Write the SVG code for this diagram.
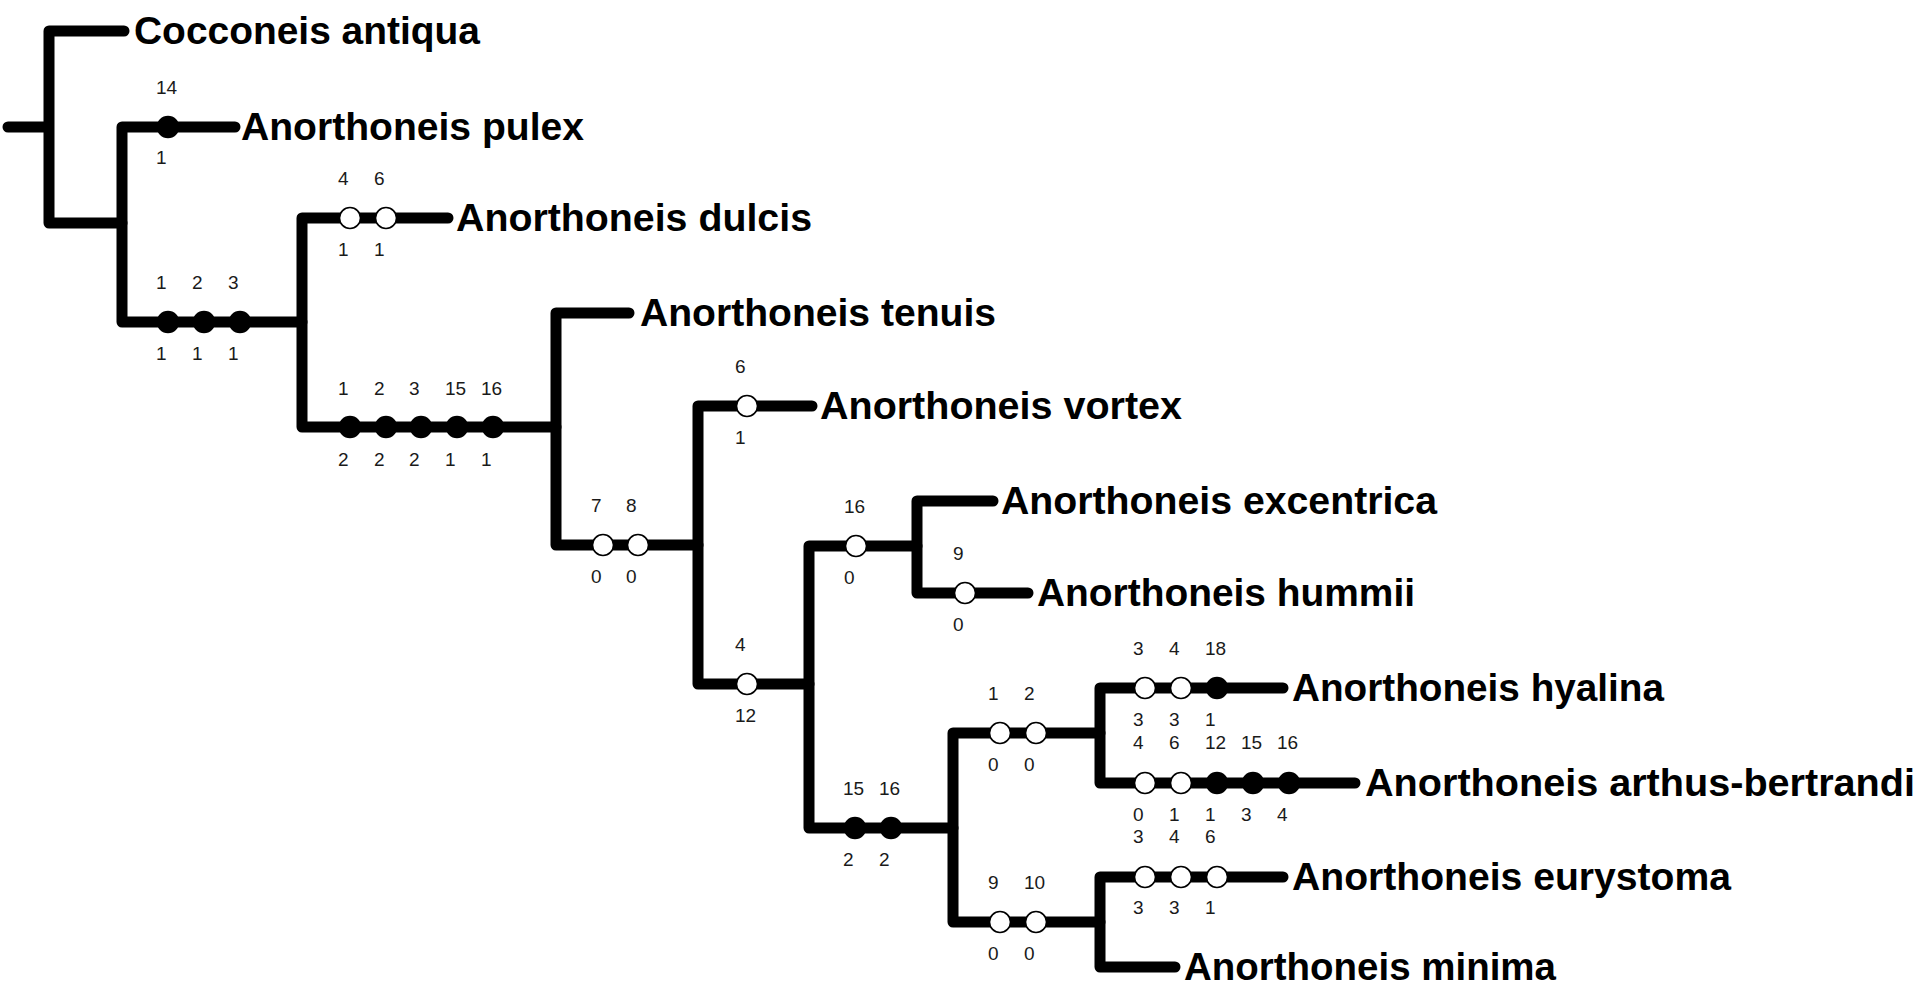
<svg xmlns="http://www.w3.org/2000/svg" width="1932" height="996" viewBox="0 0 1932 996">
<style>
.br{stroke:#000;stroke-width:11;stroke-linecap:round;fill:none}
.tx{font-family:"Liberation Sans",Arial,sans-serif;font-weight:bold;font-size:39px;fill:#000}
.lb{font-family:"Liberation Sans",Arial,sans-serif;font-size:19px;fill:#1a1a1a}
.o{fill:#fff;stroke:#000;stroke-width:1.6}
.f{fill:#000;stroke:#000;stroke-width:1.6}
</style>
<defs>
<circle id="on" r="10.5" class="o"/>
<circle id="fn" r="10.5" class="f"/>
</defs>
<rect width="1932" height="996" fill="#fff"/>
<g id="connectors">
<path class="br" d="M8 127H49M49 31V223M49 31H124M49 223H122"/>
<path class="br" d="M122 127V322M122 127H235M122 322H302"/>
<path class="br" d="M302 218V427M302 218H448M302 427H556"/>
<path class="br" d="M556 313V545M556 313H629M556 545H698"/>
<path class="br" d="M698 406V684M698 406H812M698 684H809"/>
<path class="br" d="M809 546V828M809 546H917M809 828H953"/>
<path class="br" d="M917 501V593M917 501H993M917 593H1028"/>
<path class="br" d="M953 733V922M953 733H1100M953 922H1100"/>
<path class="br" d="M1100 688V783M1100 688H1283M1100 783H1355"/>
<path class="br" d="M1100 877V967M1100 877H1283M1100 967H1175"/>
</g>
<g id="cocconeis-antiqua"><text class="tx" x="134" y="44" textLength="346" lengthAdjust="spacingAndGlyphs">Cocconeis antiqua</text></g>
<g id="anorthoneis-pulex">
<use href="#fn" x="168" y="127"/>
<text class="lb" x="156" y="94">14</text><text class="lb" x="156" y="164">1</text>
<text class="tx" x="241" y="140" textLength="343" lengthAdjust="spacingAndGlyphs">Anorthoneis pulex</text></g>
<g id="clade-123">
<use href="#fn" x="168" y="322"/><use href="#fn" x="204" y="322"/><use href="#fn" x="240" y="322"/>
<text class="lb" x="156" y="289">1</text><text class="lb" x="192" y="289">2</text><text class="lb" x="228" y="289">3</text>
<text class="lb" x="156" y="360">1</text><text class="lb" x="192" y="360">1</text><text class="lb" x="228" y="360">1</text></g>
<g id="anorthoneis-dulcis">
<use href="#on" x="350" y="218"/><use href="#on" x="386" y="218"/>
<text class="lb" x="338" y="185">4</text><text class="lb" x="374" y="185">6</text>
<text class="lb" x="338" y="256">1</text><text class="lb" x="374" y="256">1</text>
<text class="tx" x="456" y="231" textLength="356" lengthAdjust="spacingAndGlyphs">Anorthoneis dulcis</text></g>
<g id="clade-5">
<use href="#fn" x="350" y="427"/><use href="#fn" x="386" y="427"/><use href="#fn" x="421" y="427"/><use href="#fn" x="457" y="427"/><use href="#fn" x="493" y="427"/>
<text class="lb" x="338" y="395">1</text><text class="lb" x="374" y="395">2</text><text class="lb" x="409" y="395">3</text><text class="lb" x="445" y="395">15</text><text class="lb" x="481" y="395">16</text>
<text class="lb" x="338" y="466">2</text><text class="lb" x="374" y="466">2</text><text class="lb" x="409" y="466">2</text><text class="lb" x="445" y="466">1</text><text class="lb" x="481" y="466">1</text></g>
<g id="anorthoneis-tenuis"><text class="tx" x="640" y="326" textLength="356" lengthAdjust="spacingAndGlyphs">Anorthoneis tenuis</text></g>
<g id="clade-78">
<use href="#on" x="603" y="545"/><use href="#on" x="638" y="545"/>
<text class="lb" x="591" y="512">7</text><text class="lb" x="626" y="512">8</text>
<text class="lb" x="591" y="583">0</text><text class="lb" x="626" y="583">0</text></g>
<g id="anorthoneis-vortex">
<use href="#on" x="747" y="406"/>
<text class="lb" x="735" y="373">6</text><text class="lb" x="735" y="444">1</text>
<text class="tx" x="820" y="419" textLength="362" lengthAdjust="spacingAndGlyphs">Anorthoneis vortex</text></g>
<g id="clade-4">
<use href="#on" x="747" y="684"/>
<text class="lb" x="735" y="651">4</text><text class="lb" x="735" y="722">12</text></g>
<g id="clade-16">
<use href="#on" x="856" y="546"/>
<text class="lb" x="844" y="513">16</text><text class="lb" x="844" y="584">0</text></g>
<g id="anorthoneis-excentrica"><text class="tx" x="1001" y="514" textLength="436" lengthAdjust="spacingAndGlyphs">Anorthoneis excentrica</text></g>
<g id="anorthoneis-hummii">
<use href="#on" x="965" y="593"/>
<text class="lb" x="953" y="560">9</text><text class="lb" x="953" y="631">0</text>
<text class="tx" x="1037" y="606" textLength="378" lengthAdjust="spacingAndGlyphs">Anorthoneis hummii</text></g>
<g id="clade-1516">
<use href="#fn" x="855" y="828"/><use href="#fn" x="891" y="828"/>
<text class="lb" x="843" y="795">15</text><text class="lb" x="879" y="795">16</text>
<text class="lb" x="843" y="866">2</text><text class="lb" x="879" y="866">2</text></g>
<g id="clade-12">
<use href="#on" x="1000" y="733"/><use href="#on" x="1036" y="733"/>
<text class="lb" x="988" y="700">1</text><text class="lb" x="1024" y="700">2</text>
<text class="lb" x="988" y="771">0</text><text class="lb" x="1024" y="771">0</text></g>
<g id="anorthoneis-hyalina">
<use href="#on" x="1145" y="688"/><use href="#on" x="1181" y="688"/><use href="#fn" x="1217" y="688"/>
<text class="lb" x="1133" y="655">3</text><text class="lb" x="1169" y="655">4</text><text class="lb" x="1205" y="655">18</text>
<text class="lb" x="1133" y="726">3</text><text class="lb" x="1169" y="726">3</text><text class="lb" x="1205" y="726">1</text>
<text class="tx" x="1292" y="701" textLength="372" lengthAdjust="spacingAndGlyphs">Anorthoneis hyalina</text></g>
<g id="anorthoneis-arthus-bertrandi">
<use href="#on" x="1145" y="783"/><use href="#on" x="1181" y="783"/><use href="#fn" x="1217" y="783"/><use href="#fn" x="1253" y="783"/><use href="#fn" x="1289" y="783"/>
<text class="lb" x="1133" y="749">4</text><text class="lb" x="1169" y="749">6</text><text class="lb" x="1205" y="749">12</text><text class="lb" x="1241" y="749">15</text><text class="lb" x="1277" y="749">16</text>
<text class="lb" x="1133" y="821">0</text><text class="lb" x="1169" y="821">1</text><text class="lb" x="1205" y="821">1</text><text class="lb" x="1241" y="821">3</text><text class="lb" x="1277" y="821">4</text>
<text class="tx" x="1365" y="796" textLength="550" lengthAdjust="spacingAndGlyphs">Anorthoneis arthus-bertrandi</text></g>
<g id="clade-910">
<use href="#on" x="1000" y="922"/><use href="#on" x="1036" y="922"/>
<text class="lb" x="988" y="889">9</text><text class="lb" x="1024" y="889">10</text>
<text class="lb" x="988" y="960">0</text><text class="lb" x="1024" y="960">0</text></g>
<g id="anorthoneis-eurystoma">
<use href="#on" x="1145" y="877"/><use href="#on" x="1181" y="877"/><use href="#on" x="1217" y="877"/>
<text class="lb" x="1133" y="843">3</text><text class="lb" x="1169" y="843">4</text><text class="lb" x="1205" y="843">6</text>
<text class="lb" x="1133" y="914">3</text><text class="lb" x="1169" y="914">3</text><text class="lb" x="1205" y="914">1</text>
<text class="tx" x="1292" y="890" textLength="439" lengthAdjust="spacingAndGlyphs">Anorthoneis eurystoma</text></g>
<g id="anorthoneis-minima"><text class="tx" x="1184" y="980" textLength="372" lengthAdjust="spacingAndGlyphs">Anorthoneis minima</text></g>
</svg>
